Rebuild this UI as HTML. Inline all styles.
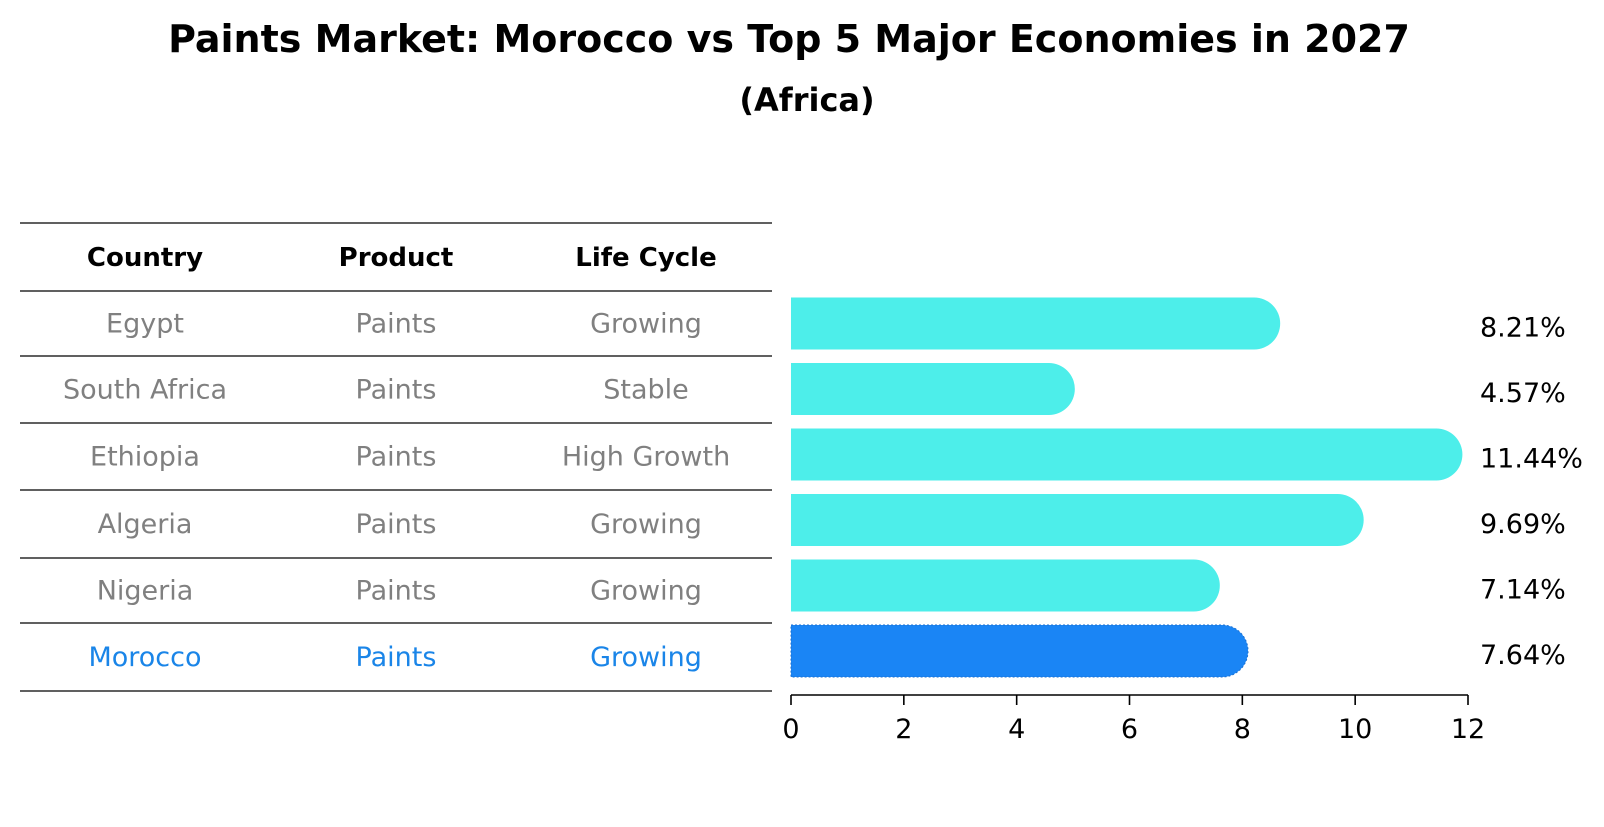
<!DOCTYPE html>
<html><head><meta charset="utf-8"><style>
body{margin:0;background:#fff;font-family:"DejaVu Sans","Liberation Sans",sans-serif;}
</style></head><body>
<svg width="1604" height="823" xmlns="http://www.w3.org/2000/svg" font-family="DejaVu Sans, Liberation Sans, sans-serif">
<text x="789" y="52" text-anchor="middle" font-size="38" font-weight="bold">Paints Market: Morocco vs Top 5 Major Economies in 2027</text>
<text x="807" y="111" text-anchor="middle" font-size="32" font-weight="bold">(Africa)</text>
<g id="table"></g>
<g id="bars"></g>
<g id="axis"></g>
</svg>
<script>
const countries=["Egypt","South Africa","Ethiopia","Algeria","Nigeria","Morocco"];
const products=["Paints","Paints","Paints","Paints","Paints","Paints"];
const lifecycles=["Growing","Stable","High Growth","Growing","Growing","Growing"];
const values=[8.21,4.57,11.44,9.69,7.14,7.64];
const ticks=[0,2,4,6,8,10,12];
const NS="http://www.w3.org/2000/svg";
function mk(tag,attrs,parent,text){const e=document.createElementNS(NS,tag);for(const k in attrs)e.setAttribute(k,attrs[k]);if(text!==undefined)e.textContent=text;parent.appendChild(e);return e;}
const x0=791,x1=1468;
const pxPer=(x1-x0)/12;
const xs=v=>x0+v*pxPer;
const rowY=i=>323.5+i*65.5;
const T=document.getElementById('table');
const lines=[223,291,356,423,490,558,623,691];
lines.forEach((y,i)=>{const l=mk('line',{x1:20,x2:772,y1:y,y2:y,stroke:'#000','stroke-width':1.2},T);

});
const colX=[145,396,646];
["Country","Product","Life Cycle"].forEach((h,j)=>{const t=mk('text',{x:colX[j],y:266,'text-anchor':'middle','font-size':26,'font-weight':'bold'},T,h);

});
countries.forEach((c,i)=>{const col=i===countries.length-1?'#1a85e8':'#808080';const y=(lines[i+1]+lines[i+2])/2+9;
[c,products[i],lifecycles[i]].forEach((v,j)=>{const t=mk('text',{x:colX[j],y:y,'text-anchor':'middle','font-size':27,fill:col},T,v);

});});
const B=document.getElementById('bars');
const h=52,r=26;
values.forEach((v,i)=>{const cy=rowY(i);const isM=i===values.length-1;const xe=xs(v);
const p=mk('path',{d:`M${x0},${cy-h/2} H${xe} A${r},${r} 0 0 1 ${xe},${cy+h/2} H${x0} Z`,fill:isM?'#1a85f5':'#4deeea',stroke:isM?'#1a6fd0':'none','stroke-dasharray':'2,2','stroke-width':1},B);


const t=mk('text',{x:1480,y:cy+13,'font-size':27},B,v.toFixed(2)+'%');

});
const A=document.getElementById('axis');
const al=mk('line',{x1:x0,x2:x1,y1:695,y2:695,stroke:'#000','stroke-width':1.6},A);


ticks.forEach(t=>{const x=xs(t);const tk=mk('line',{x1:x,x2:x,y1:695,y2:705,stroke:'#000','stroke-width':1.6},A);


const lb=mk('text',{x:x,y:738,'text-anchor':'middle','font-size':27},A,String(t));

});
</script>
</body></html>
